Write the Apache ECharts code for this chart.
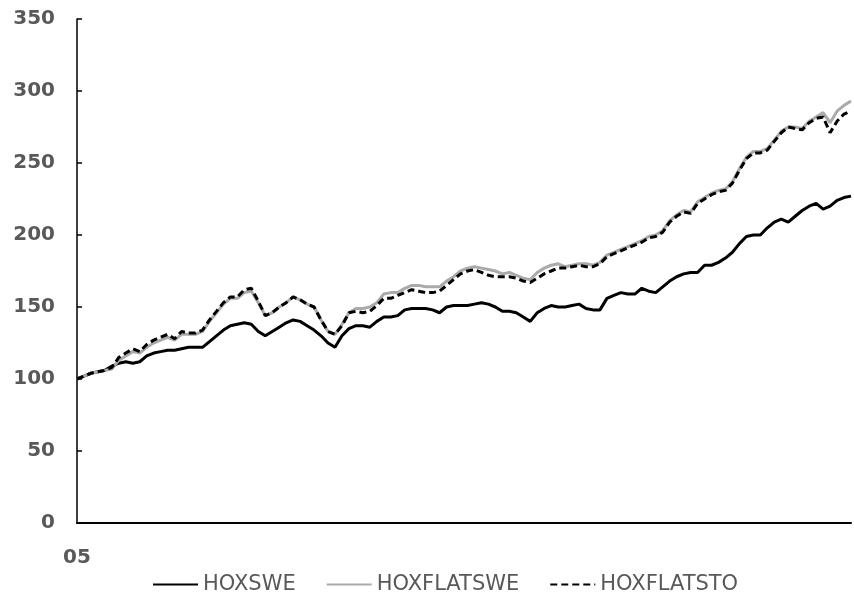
<!DOCTYPE html>
<html>
<head>
<meta charset="utf-8">
<script src="https://cdn.jsdelivr.net/npm/echarts@6/dist/echarts.min.js"></script>
<style>
html,body{margin:0;padding:0;background:#fff;}
#chart{width:854px;height:606px;}
</style>
</head>
<body>
<div id="chart"></div>
<script>
const seriesNames = ['HOXSWE', 'HOXFLATSWE', 'HOXFLATSTO'];
const tickLabels = ['05'];
const yTicks = [0, 50, 100, 150, 200, 250, 300, 350];

const hoxswe = [100,102,104,105,106,109,111,112,111,112,116,118,119,120,120,121,122,122,122,126,
130,134,137,138,139,138,133,130,133,136,139,141,140,137,134,130,125,122,130,135,
137,137,136,140,143,143,144,148,149,149,149,148,146,150,151,151,151,152,153,152,
150,147,147,146,143,140,146,149,151,150,150,151,152,149,148,148,156,158,160,159,
159,163,161,160,164,168,171,173,174,174,179,179,181,184,188,194,199,200,200,205,
209,211,209,213,217,220,222,218,220,224,226,227];

const hoxflatswe = [100,102,104,105,106,107,113,116,119,118,122,125,127,129,127,131,131,131,133,140,
146,152,156,156,160,161,153,144,146,150,153,157,155,152,150,141,133,131,138,146,
149,149,150,153,159,160,160,163,165,165,164,164,164,168,171,175,177,178,177,176,
175,173,174,172,170,169,174,177,179,180,178,179,180,180,179,181,186,188,190,192,
194,196,199,200,203,210,214,217,216,223,226,229,231,232,237,246,254,258,258,260,
266,272,275,275,274,279,282,285,278,286,290,293];

const hoxflatsto = [100,102,104,105,106,108,115,118,121,119,124,127,129,131,128,133,132,132,134,141,
147,153,157,157,162,163,154,144,146,150,153,157,155,152,150,141,133,131,137,146,
147,146,147,151,156,156,158,160,162,161,160,160,161,165,169,173,175,176,174,172,
171,171,171,170,168,167,170,173,175,177,177,178,179,178,178,180,185,187,189,191,
193,195,198,199,202,209,213,216,215,222,225,228,230,231,236,245,253,257,257,259,
265,271,275,274,273,278,281,282,271,279,284,286];

const categories = hoxswe.map((v, i) => (i < tickLabels.length ? tickLabels[i] : ''));

const chart = echarts.init(document.getElementById('chart'));
const textColor = '#595959';
chart.setOption({
  animation: false,
  backgroundColor: '#ffffff',
  grid: { left: 77, right: 0, top: 19, bottom: 83, containLabel: false },
  legend: {
    data: seriesNames,
    left: 147,
    top: 569,
    itemWidth: 45,
    itemHeight: 14,
    itemGap: 30,
    itemStyle: { opacity: 0 },
    textStyle: { color: textColor, fontFamily: 'DejaVu Sans', fontSize: 21 }
  },
  xAxis: {
    type: 'category',
    data: categories,
    boundaryGap: false,
    axisLine: { lineStyle: { color: '#000', width: 2 } },
    axisTick: { show: false },
    axisLabel: {
      interval: 0,
      margin: 25,
      color: textColor,
      fontFamily: 'DejaVu Sans',
      fontWeight: 'bold',
      fontSize: 20
    },
    splitLine: { show: false }
  },
  yAxis: {
    type: 'value',
    min: yTicks[0],
    max: yTicks[yTicks.length - 1],
    interval: yTicks[1] - yTicks[0],
    axisLine: { show: true, lineStyle: { color: '#000', width: 1.5 } },
    axisTick: { show: true, inside: true, length: 5, lineStyle: { color: '#000', width: 1.5 } },
    axisLabel: {
      margin: 22,
      color: textColor,
      fontFamily: 'DejaVu Sans',
      fontWeight: 'bold',
      fontSize: 20
    },
    splitLine: { show: false }
  },
  series: [
    {
      name: seriesNames[0], type: 'line', data: hoxswe, symbol: 'none',
      lineStyle: { color: '#000000', width: 3 }, itemStyle: { color: '#000000' }
    },
    {
      name: seriesNames[1], type: 'line', data: hoxflatswe, symbol: 'none',
      lineStyle: { color: '#aaaaaa', width: 3 }, itemStyle: { color: '#aaaaaa' }
    },
    {
      name: seriesNames[2], type: 'line', data: hoxflatsto, symbol: 'none',
      lineStyle: { color: '#000000', width: 3, type: [7, 4] }, itemStyle: { color: '#000000' }
    }
  ]
});
</script>
</body>
</html>
